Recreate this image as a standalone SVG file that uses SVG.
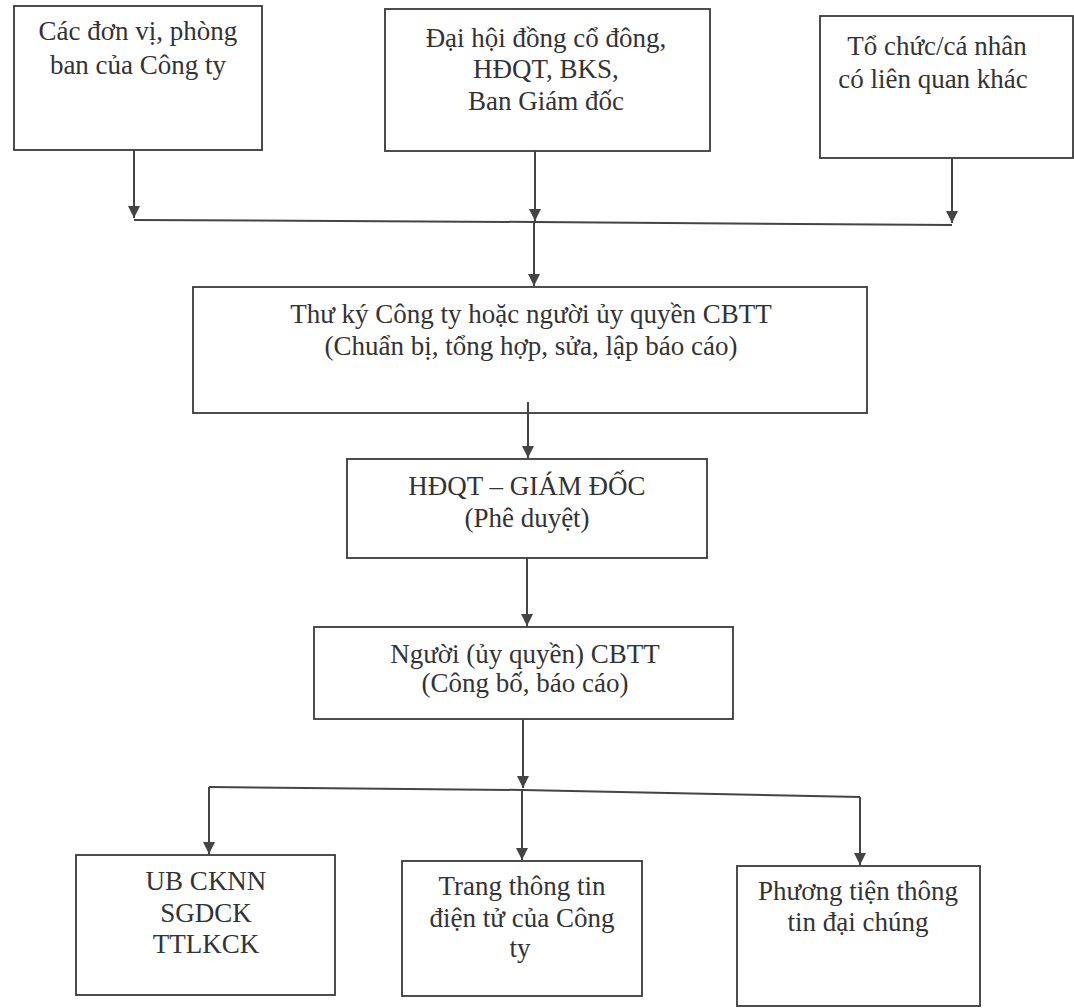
<svg xmlns="http://www.w3.org/2000/svg" width="1074" height="1008" viewBox="0 0 1074 1008">
<style>
.box{fill:#fff;stroke:#3a3a3a;stroke-width:1.8}
text{font-family:'Liberation Serif','Times New Roman','DejaVu Serif',serif;font-size:27px;fill:#333;text-anchor:middle}
.c{stroke:#444;stroke-width:2;fill:none}
</style>
<defs>
<marker id="ah" viewBox="0 0 10 10" refX="10" refY="5" markerWidth="6" markerHeight="6" markerUnits="strokeWidth" orient="auto">
<path d="M0,0 L10,5 L0,10 z" fill="#444"/>
</marker>
</defs>
<rect width="1074" height="1008" fill="#fff"/>
<g id="n1"><rect class="box" x="14" y="6" width="248" height="144"/>
<text x="138" y="40">Các đơn vị, phòng</text>
<text x="138" y="74">ban của Công ty</text></g>
<g id="n2"><rect class="box" x="385" y="9" width="325" height="142"/>
<text x="546" y="47">Đại hội đồng cổ đông,</text>
<text x="546" y="78">HĐQT, BKS,</text>
<text x="546" y="110">Ban Giám đốc</text></g>
<g id="n3"><rect class="box" x="820" y="16" width="253" height="142"/>
<text x="937" y="55">Tổ chức/cá nhân</text>
<text x="933" y="88">có liên quan khác</text></g>
<g id="n4"><rect class="box" x="193" y="287" width="674" height="126"/>
<text x="531" y="323">Thư ký Công ty hoặc người ủy quyền CBTT</text>
<text x="531" y="355">(Chuẩn bị, tổng hợp, sửa, lập báo cáo)</text></g>
<g id="n5"><rect class="box" x="347" y="459" width="360" height="99"/>
<text x="527" y="495">HĐQT – GIÁM ĐỐC</text>
<text x="527" y="527">(Phê duyệt)</text></g>
<g id="n6"><rect class="box" x="314" y="627" width="419" height="92"/>
<text x="525" y="663">Người (ủy quyền) CBTT</text>
<text x="525" y="692">(Công bố, báo cáo)</text></g>
<g id="n7"><rect class="box" x="76" y="855" width="259" height="140"/>
<text x="206" y="890">UB CKNN</text>
<text x="206" y="922">SGDCK</text>
<text x="206" y="953">TTLKCK</text></g>
<g id="n8"><rect class="box" x="402" y="861" width="240" height="135"/>
<text x="522" y="895">Trang thông tin</text>
<text x="522" y="927">điện tử của Công</text>
<text x="520" y="957">ty</text></g>
<g id="n9"><rect class="box" x="737" y="866" width="243" height="140"/>
<text x="858" y="900">Phương tiện thông</text>
<text x="858" y="931">tin đại chúng</text></g>
<g id="connectors">
<line class="c" x1="134" y1="150" x2="134" y2="218" marker-end="url(#ah)"/>
<line class="c" x1="535" y1="151" x2="535" y2="221" marker-end="url(#ah)"/>
<line class="c" x1="952" y1="158" x2="952" y2="223" marker-end="url(#ah)"/>
<polyline class="c" points="134,220 535,222 952,225"/>
<line class="c" x1="534" y1="222" x2="534" y2="286" marker-end="url(#ah)"/>
<line class="c" x1="528" y1="402" x2="528" y2="458" marker-end="url(#ah)"/>
<line class="c" x1="527" y1="558" x2="527" y2="626" marker-end="url(#ah)"/>
<line class="c" x1="523" y1="719" x2="523" y2="788" marker-end="url(#ah)"/>
<polyline class="c" points="209,787 523,790 860,797"/>
<line class="c" x1="209" y1="787" x2="209" y2="854" marker-end="url(#ah)"/>
<line class="c" x1="522" y1="790" x2="522" y2="860" marker-end="url(#ah)"/>
<line class="c" x1="860" y1="797" x2="860" y2="865" marker-end="url(#ah)"/>
</g>
</svg>
